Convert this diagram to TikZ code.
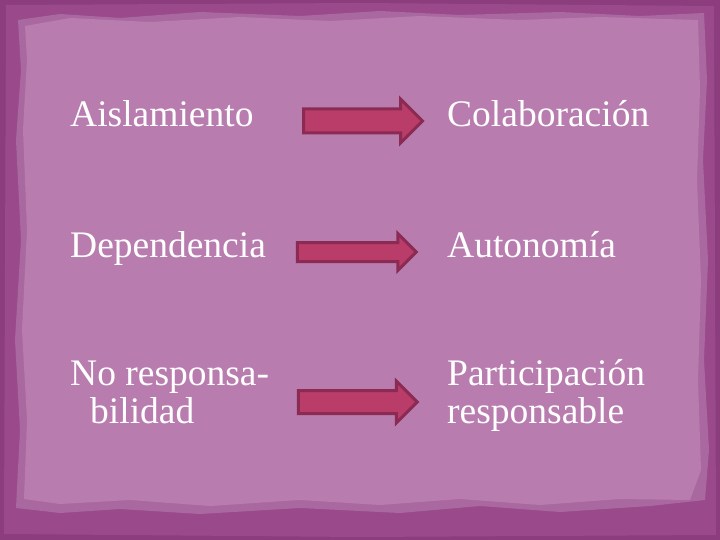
\documentclass[tikz,border=0pt]{standalone}
\usepackage{fontspec}
\setmainfont{Liberation Serif}
\usetikzlibrary{shapes.arrows}
\definecolor{outerbg}{HTML}{9A4A8B}
\definecolor{edgebg}{HTML}{8C3D7E}
\definecolor{innerbg}{HTML}{B87CAF}
\definecolor{rimbg}{HTML}{AA68A0}
\definecolor{arrowfill}{HTML}{B93C69}
\definecolor{arrowline}{HTML}{8B2B53}
\tikzset{
  word/.style={anchor=base west, text=white, font=\fontsize{37.5}{38}\selectfont, inner sep=0pt, align=left},
  blockarrow/.style 2 args={single arrow, draw=arrowline, fill=arrowfill, line width=3pt,
     inner xsep=0pt, inner ysep=#1, single arrow head extend=#2, single arrow tip angle=90, minimum height=119pt},
}
\begin{document}
\begin{tikzpicture}[x=1pt,y=-1pt]
\useasboundingbox (0,0) rectangle (720,540);
\fill[edgebg] (0,0) rectangle (720,540);
\fill[outerbg] (6,5) -- (360,3) -- (714,6) -- (716,535) -- (360,537) -- (4,534) -- cycle;
% rim
\fill[rimbg] (18,20) -- (60,14) -- (120,18) -- (200,12) -- (300,16) -- (380,11) -- (460,15) -- (560,12) -- (640,16) -- (704,13)
  -- (707,80) -- (703,160) -- (708,260) -- (704,360) -- (709,450) -- (705,500)
  -- (650,506) -- (560,512) -- (480,506) -- (400,513) -- (300,508) -- (200,514) -- (120,509) -- (60,513) -- (16,508)
  -- (20,430) -- (15,340) -- (21,240) -- (16,140) -- (21,70) -- cycle;
\fill[innerbg] (25,26) -- (70,18) -- (150,22) -- (240,17) -- (330,21) -- (420,16) -- (520,20) -- (600,17) -- (698,20)
  -- (700,90) -- (697,180) -- (701,280) -- (698,380) -- (701,470) -- (690,500)
  -- (620,499) -- (540,505) -- (460,499) -- (380,505) -- (300,500) -- (210,506) -- (130,500) -- (60,504) -- (24,499)
  -- (27,420) -- (22,330) -- (27,230) -- (23,130) -- (27,60) -- cycle;

\node[word] (a1) at (70,127) {Aislamiento};
\node[word] (b1) at (447,127) {Colaboración};
\node[word] (a2) at (70,258) {Dependencia};
\node[word] (b2) at (447,258) {Autonomía};
\node[word] (a3) at (70,423) {No responsa-\\\hspace*{20pt}bilidad};
\node[word] (b3) at (447,423) {Participación\\responsable};

\node[blockarrow={10.5pt}{10pt}] (r1) at (357,121) {};
\node[blockarrow={8pt}{9pt}] (r2) at (352,252) {};
\node[blockarrow={10pt}{9.5pt}] (r3) at (352,402) {};
\end{tikzpicture}
\end{document}
